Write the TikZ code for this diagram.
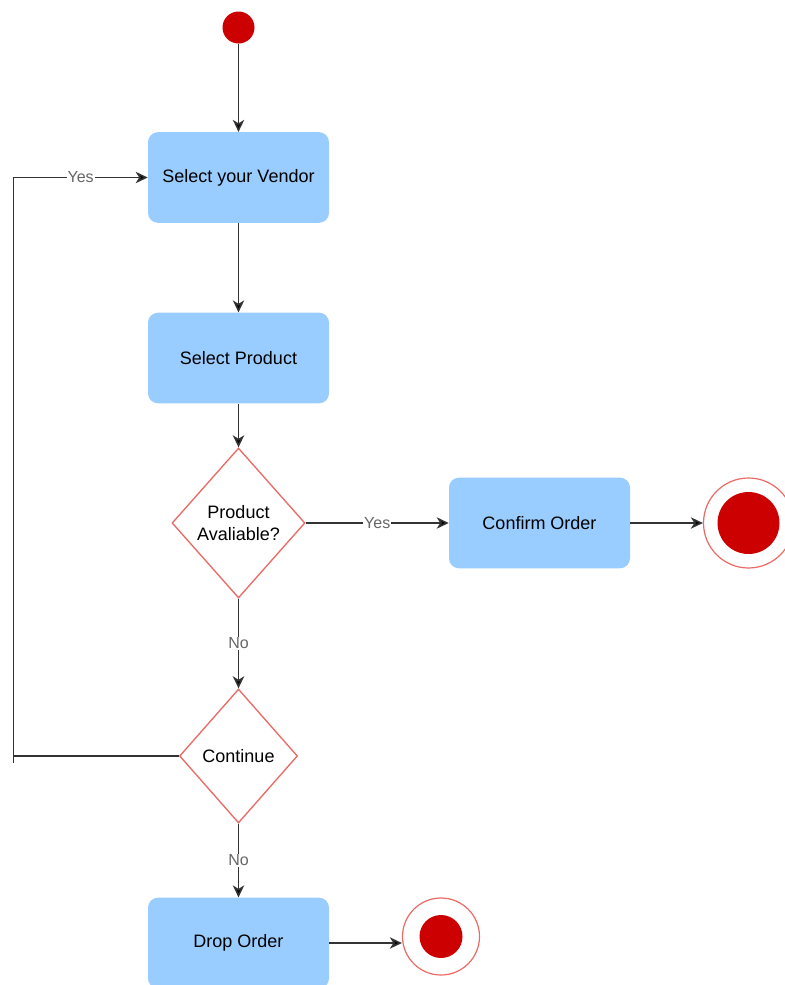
\documentclass[tikz,border=0pt]{standalone}
\usepackage{fontspec}
\setmainfont{Liberation Sans}
\usetikzlibrary{shapes.geometric,arrows.meta}
\definecolor{boxfill}{HTML}{99CCFF}
\definecolor{decline}{HTML}{EA6B66}
\definecolor{dotred}{HTML}{CC0000}
\definecolor{wire}{HTML}{333333}
\definecolor{lbl}{HTML}{666666}
\tikzset{
  actbox/.style={rectangle, rounded corners=7.5pt, fill=boxfill, draw=none,
    minimum width=135.75pt, minimum height=68pt, inner sep=0pt,
    font=\fontsize{13.5}{16.5}\selectfont, align=center},
  decide/.style={diamond, draw=decline, line width=1pt, fill=white, inner sep=0pt,
    font=\fontsize{13.5}{16.5}\selectfont, align=center},
  startdot/.style={circle, fill=dotred, draw=none, minimum size=24pt, inner sep=0pt},
  endring/.style={circle, draw=decline, line width=0.9pt, fill=white, inner sep=0pt},
  enddot/.style={circle, fill=dotred, draw=none, inner sep=0pt},
  flow/.style={draw=wire, line width=1.15pt, -{Stealth[length=9pt,width=8.5pt,inset=2.6pt,fill=black]}},
  plain/.style={draw=wire, line width=1.15pt},
  tag/.style={fill=white, text=lbl, inner sep=0.8pt, font=\fontsize{12}{14}\selectfont}
}
\begin{document}
\begin{tikzpicture}[x=0.75pt, y=-0.75pt]
  \useasboundingbox (0,0) rectangle (785,985);

  % nodes
  \node[startdot] (start) at (238.5,27.5) {};
  \node[actbox] (vendor) at (238.5,177.5) {Select your Vendor};
  \node[actbox] (product) at (238.5,358) {Select Product};
  \node[decide, minimum width=99.75pt, minimum height=112.5pt] (avail) at (238.5,523) {Product\\Avaliable?};
  \node[actbox] (confirm) at (539.5,523) {Confirm Order};
  \node[endring, minimum size=67.5pt] (endA) at (748.5,523) {};
  \node[enddot, minimum size=46.5pt] (endAdot) at (748.5,523) {};
  \node[decide, minimum width=88.5pt, minimum height=100.5pt] (cont) at (238.5,756) {Continue};
  \node[actbox] (drop) at (238.5,943) {Drop Order};
  \node[endring, minimum size=57.75pt] (endB) at (441,936.5) {};
  \node[enddot, minimum size=32.25pt] (endBdot) at (441,936.5) {};

  % loop-back corners
  \coordinate (loopbot) at (13.5,763);
  \coordinate (looptop) at (13.5,177.5);

  % connectors
  \draw[flow] (start) -- (vendor);
  \draw[flow] (vendor) -- (product);
  \draw[flow] (product) -- (avail);
  \draw[flow] (avail) -- node[tag]{Yes} (confirm);
  \draw[flow] (confirm.east) -- (confirm.east -| endA.west);
  \draw[flow] (avail) -- node[tag]{No} (cont);
  \draw[flow] (cont) -- node[tag]{No} (drop);
  \draw[flow] (drop.east) -- (drop.east -| endB.west);
  \draw[plain] (cont.west) -- (cont.west -| loopbot);
  \draw[flow] (loopbot) -- (looptop) -- node[tag]{Yes} (vendor.west);
\end{tikzpicture}
\end{document}
